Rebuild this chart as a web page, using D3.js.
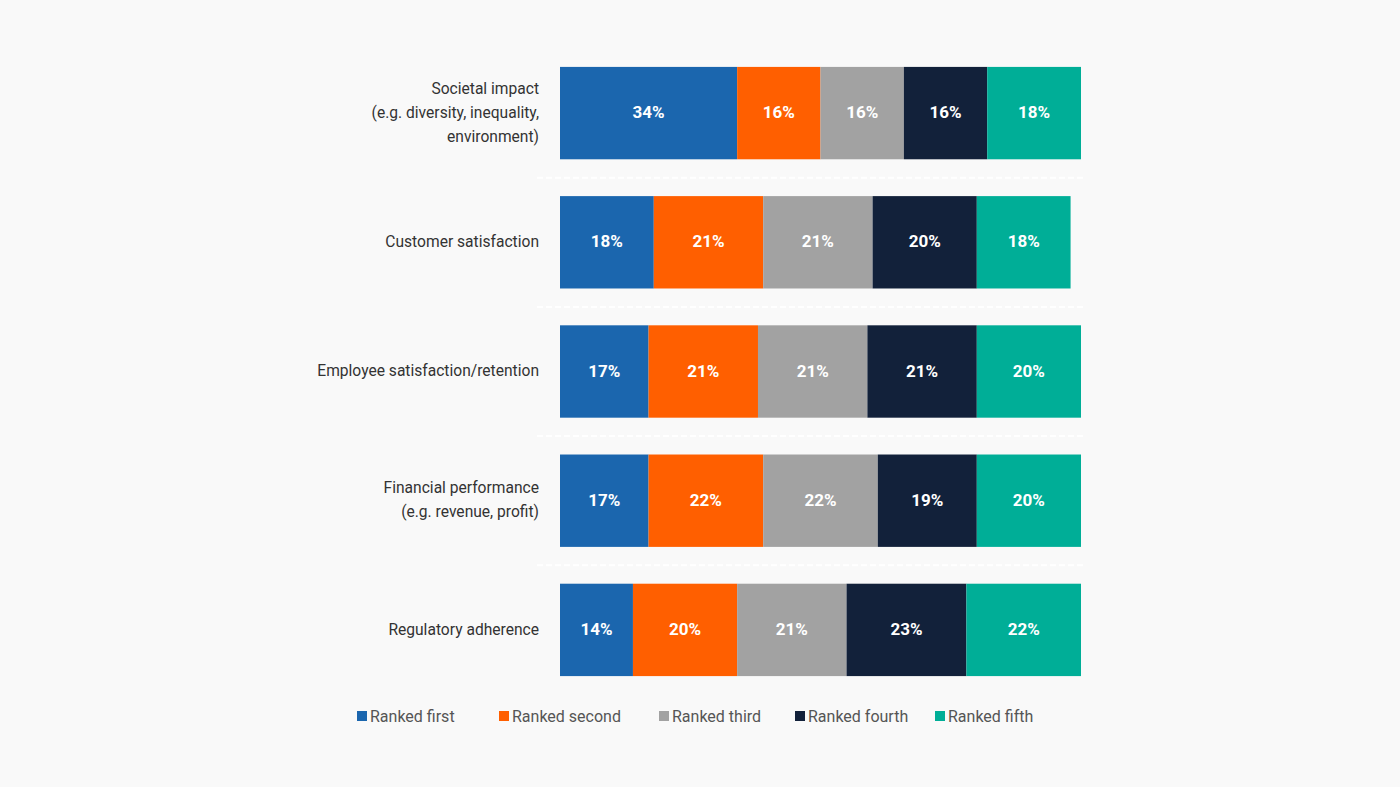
<!DOCTYPE html>
<html>
<head>
<meta charset="utf-8">
<script src="https://cdn.jsdelivr.net/npm/d3@7"></script>
<style>
  html, body { margin: 0; padding: 0; background: #f9f9f9; }
  svg { display: block; font-family: Roboto, "Noto Sans", sans-serif; }
</style>
</head>
<body>
<script>
const categories = [
  ["Societal impact", "(e.g. diversity, inequality,", "environment)"],
  ["Customer satisfaction"],
  ["Employee satisfaction/retention"],
  ["Financial performance", "(e.g. revenue, profit)"],
  ["Regulatory adherence"],
];
const seriesNames = ["Ranked first", "Ranked second", "Ranked third", "Ranked fourth", "Ranked fifth"];
const colors = ["#1b66ae", "#ff5f00", "#a2a2a2", "#12213a", "#00ae97"];
const first = [34, 18, 17, 17, 14];
const second = [16, 21, 21, 22, 20];
const third = [16, 21, 21, 22, 21];
const fourth = [16, 20, 21, 19, 23];
const fifth = [18, 18, 20, 20, 22];

const width = 1400, height = 787;
const keys = categories.map((c) => c.join(" "));
const rows = keys.map((k, i) => ({
  key: k,
  "Ranked first": first[i],
  "Ranked second": second[i],
  "Ranked third": third[i],
  "Ranked fourth": fourth[i],
  "Ranked fifth": fifth[i],
}));
const stacked = d3.stack().keys(seriesNames)(rows);

const svg = d3.select("body").append("svg")
  .attr("width", width)
  .attr("height", height);

const x = d3.scaleLinear().domain([0, 100]).range([560, 1081]);
const y = d3.scaleBand().domain(keys).range([48.5, 694.5])
  .paddingInner(0.285).paddingOuter(0.1425);
const color = d3.scaleOrdinal().domain(seriesNames).range(colors);

// dashed separators between rows
const gap = y.step() - y.bandwidth();
svg.append("g")
  .selectAll("line")
  .data(keys.slice(0, -1))
  .join("line")
  .attr("x1", 537)
  .attr("x2", 1083)
  .attr("y1", (d) => y(d) + y.bandwidth() + gap / 2)
  .attr("y2", (d) => y(d) + y.bandwidth() + gap / 2)
  .attr("stroke", "#ffffff")
  .attr("stroke-width", 2)
  .attr("stroke-dasharray", "6,3");

const layer = svg.append("g")
  .selectAll("g")
  .data(stacked)
  .join("g")
  .attr("fill", (d) => color(d.key));

layer.selectAll("rect")
  .data((d) => d)
  .join("rect")
  .attr("x", (d) => x(d[0]))
  .attr("y", (d) => y(d.data.key))
  .attr("width", (d) => x(d[1]) - x(d[0]))
  .attr("height", y.bandwidth());

layer.selectAll("text")
  .data((d) => d)
  .join("text")
  .attr("x", (d) => (x(d[0]) + x(d[1])) / 2)
  .attr("y", (d) => y(d.data.key) + y.bandwidth() / 2)
  .attr("dy", "0.3em")
  .attr("text-anchor", "middle")
  .attr("fill", "#ffffff")
  .attr("font-size", 17)
  .attr("font-weight", "bold")
  .text((d) => `${d[1] - d[0]}%`);

// category labels
const labels = svg.append("g")
  .selectAll("text")
  .data(categories)
  .join("text")
  .attr("text-anchor", "end")
  .attr("fill", "#333333")
  .attr("font-size", 15.6);

labels.each(function (lines, i) {
  const cy = y(keys[i]) + y.bandwidth() / 2;
  const lh = 24;
  d3.select(this).selectAll("tspan")
    .data(lines)
    .join("tspan")
    .attr("x", 539)
    .attr("y", (d, j) => cy + (j - (lines.length - 1) / 2) * lh)
    .attr("dy", "0.3em")
    .text((d) => d);
});

// legend
const legendX = [357, 499, 659, 795, 935];
const legend = svg.append("g")
  .selectAll("g")
  .data(seriesNames)
  .join("g")
  .attr("transform", (d, i) => `translate(${legendX[i]},716)`);

legend.append("rect")
  .attr("x", 0)
  .attr("y", -5)
  .attr("width", 10)
  .attr("height", 10)
  .attr("fill", (d) => color(d));

legend.append("text")
  .attr("x", 13)
  .attr("dy", "0.35em")
  .attr("fill", "#555555")
  .attr("font-size", 16)
  .text((d) => d);
</script>
</body>
</html>
